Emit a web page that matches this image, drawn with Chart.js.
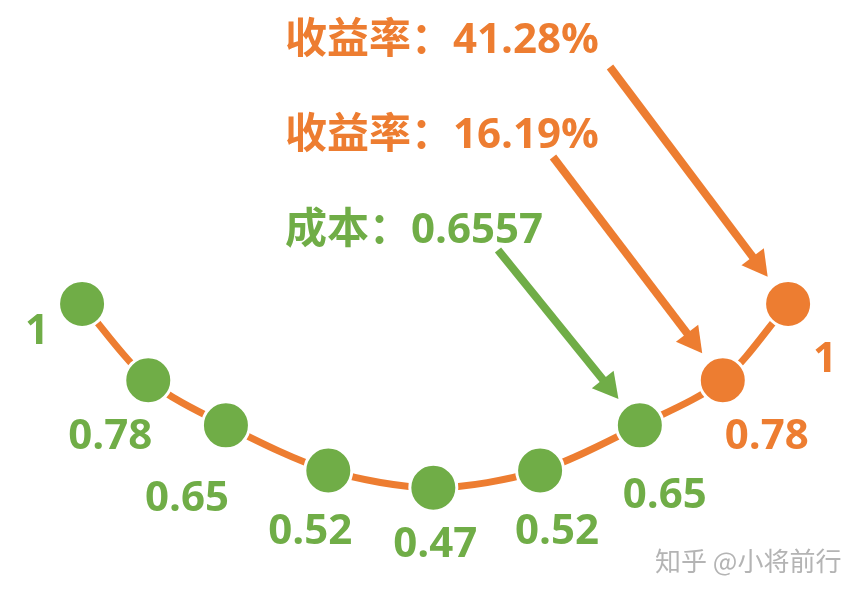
<!DOCTYPE html>
<html>
<head>
<meta charset="utf-8">
<script src="https://cdn.jsdelivr.net/npm/chart.js@4.4.1/dist/chart.umd.min.js"></script>
<style>
  html, body { margin: 0; padding: 0; background: #fff; }
  #wrap { width: 864px; height: 595px; position: relative; }
</style>
</head>
<body>
<div id="wrap"><canvas id="costChart"></canvas></div>
<script>
// values on the curve
let costValues = [1, 0.78, 0.65, 0.52, 0.47, 0.52, 0.65, 0.78, 1];
let valueLabels = ["1", "0.78", "0.65", "0.52", "0.47", "0.52", "0.65", "0.78", "1"];
// where each dot sits along the arc (dots are not evenly spaced)
let arcSteps = [0, 0.75, 1.63, 2.79, 3.98, 5.19, 6.32, 7.26, 8];
let pointGroups = ["cost", "cost", "cost", "cost", "cost", "cost", "cost", "return", "return"];

// callouts: text and the dot they point at
let calloutTexts = ["收益率：41.28%", "收益率：16.19%", "成本：0.6557"];
let calloutGroups = ["return", "return", "cost"];
let calloutTargets = [8, 7, 6];

const GREEN = "#70AD47";
const ORANGE = "#ED7D31";
const groupColor = g => (g === "return" ? ORANGE : GREEN);

// layout bits (pixels)
const labelOffsets = [[-45, 28], [-38, 57], [-39, 74], [-18, 62], [2, 57], [17, 62], [25, 71], [44, 57], [37, 56]];
const calloutPos = [[285, 53], [285, 148], [285, 243]];
const arrowStart = [[610, 67], [553, 157], [498, 250]];

const LABEL_FONT = "bold 42px 'Open Sans', 'Noto Sans CJK SC', sans-serif";
const CALLOUT_FONT = "bold 42px 'Open Sans', 'Noto Sans CJK SC', sans-serif";

function drawArrow(c, x0, y0, x1, y1, color) {
  let dx = x1 - x0, dy = y1 - y0;
  let len = Math.sqrt(dx * dx + dy * dy);
  let ux = dx / len, uy = dy / len;
  let headLen = 25, headW = 14;
  let bx = x1 - ux * headLen, by = y1 - uy * headLen;
  c.save();
  c.strokeStyle = color;
  c.fillStyle = color;
  c.lineWidth = 8;
  c.lineCap = "butt";
  c.beginPath();
  c.moveTo(x0, y0);
  c.lineTo(bx + ux * 2, by + uy * 2);
  c.stroke();
  c.beginPath();
  c.moveTo(x1, y1);
  c.lineTo(bx - uy * headW, by + ux * headW);
  c.lineTo(bx + uy * headW, by - ux * headW);
  c.closePath();
  c.fill();
  c.restore();
}

const annotatePlugin = {
  id: "annotate",
  afterDatasetsDraw(chart) {
    const c = chart.ctx;
    const pts = chart.getDatasetMeta(0).data;

    // value labels under the dots
    c.save();
    c.font = LABEL_FONT;
    c.textAlign = "center";
    c.textBaseline = "middle";
    pts.forEach((p, i) => {
      c.fillStyle = groupColor(pointGroups[i]);
      c.fillText(valueLabels[i], p.x + labelOffsets[i][0], p.y + labelOffsets[i][1]);
    });
    c.restore();

    // callout texts
    c.save();
    c.font = CALLOUT_FONT;
    c.textAlign = "left";
    c.textBaseline = "alphabetic";
    calloutTexts.forEach((t, i) => {
      c.fillStyle = groupColor(calloutGroups[i]);
      c.fillText(t, calloutPos[i][0], calloutPos[i][1]);
    });
    c.restore();

    // arrows to the dots
    calloutTargets.forEach((idx, i) => {
      let p = pts[idx];
      let sx = arrowStart[i][0], sy = arrowStart[i][1];
      let dx = p.x - sx, dy = p.y - sy;
      let len = Math.sqrt(dx * dx + dy * dy);
      let gap = 34;
      drawArrow(c, sx, sy, sx + dx * (len - gap) / len, sy + dy * (len - gap) / len, groupColor(calloutGroups[i]));
    });

    // watermark
    c.save();
    c.font = "26px 'Noto Sans CJK SC', sans-serif";
    c.fillStyle = "#b4b4b4";
    c.textAlign = "left";
    c.textBaseline = "alphabetic";
    c.fillText("知乎 @小将前行", 655, 571);
    c.restore();
  }
};

let ctx = document.getElementById("costChart").getContext("2d");

let chartInstance = new Chart(ctx, {
  type: "line",
  data: {
    datasets: [{
      label: "成本",
      data: arcSteps.map((s, i) => ({ x: s, y: costValues[i] })),
      borderColor: ORANGE,
      borderWidth: 7,
      tension: 0.3,
      pointRadius: 23.5,
      pointHoverRadius: 23.5,
      pointBorderWidth: 3,
      pointBorderColor: "#ffffff",
      pointBackgroundColor: pointGroups.map(groupColor),
      clip: false
    }]
  },
  options: {
    responsive: true,
    maintainAspectRatio: false,
    animation: false,
    layout: { padding: 0, autoPadding: false },
    scales: {
      x: { type: "linear", display: false, min: -0.93, max: 8.86 },
      y: { type: "linear", display: false, min: 0.161, max: 1.876 }
    },
    plugins: {
      legend: { display: false },
      tooltip: { enabled: false }
    }
  },
  plugins: [annotatePlugin]
});
</script>
</body>
</html>
